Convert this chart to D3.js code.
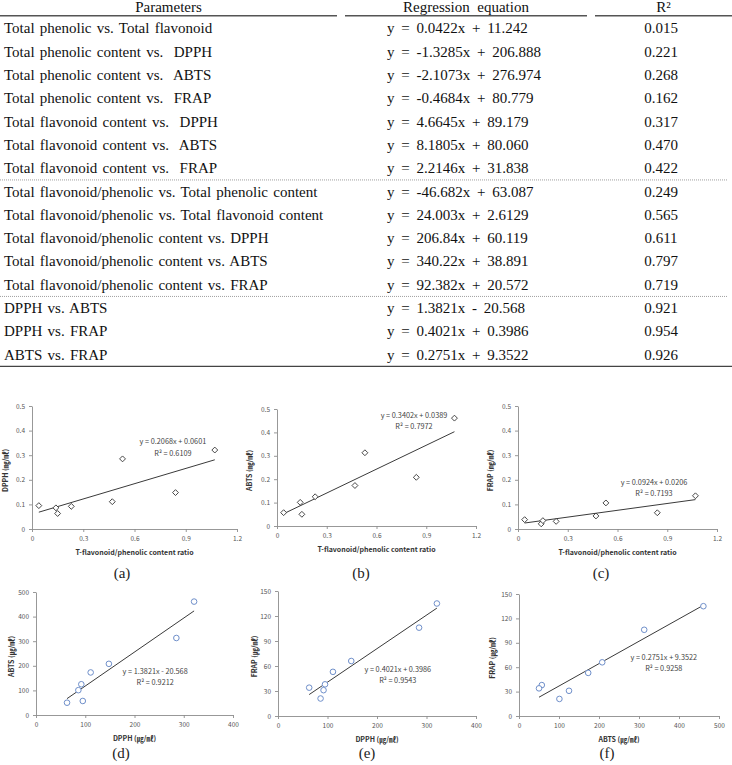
<!DOCTYPE html>
<html>
<head>
<meta charset="utf-8">
<script src="https://cdn.jsdelivr.net/npm/d3@7/dist/d3.min.js"></script>
<style>
  body { margin: 0; background: #fff; }
  svg { display: block; }
  .tbl text { font-family: "Liberation Serif", "Times New Roman", serif; font-size: 15px; fill: #111; white-space: pre; }
  .tick text { font-family: "Noto Sans CJK KR", "Noto Sans", sans-serif; font-size: 6.5px; fill: #555; }
  .ttl { font-family: "Noto Sans CJK KR", "Noto Sans", sans-serif; font-size: 7px; font-weight: bold; fill: #333; }
  .eq { font-family: "Noto Sans CJK KR", "Noto Sans", sans-serif; font-size: 7.3px; fill: #444; }
  .cap { font-family: "Liberation Serif", serif; font-size: 15px; fill: #222; }
</style>
</head>
<body>
<div id="chart"></div>
<script>
'use strict';

// ---- table ----
var parameters = [
  'Total phenolic vs. Total flavonoid',
  'Total phenolic content vs.  DPPH',
  'Total phenolic content vs.  ABTS',
  'Total phenolic content vs.  FRAP',
  'Total flavonoid content vs.  DPPH',
  'Total flavonoid content vs.  ABTS',
  'Total flavonoid content vs.  FRAP',
  'Total flavonoid/phenolic vs. Total phenolic content',
  'Total flavonoid/phenolic vs. Total flavonoid content',
  'Total flavonoid/phenolic content vs. DPPH',
  'Total flavonoid/phenolic content vs. ABTS',
  'Total flavonoid/phenolic content vs. FRAP',
  'DPPH vs. ABTS',
  'DPPH vs. FRAP',
  'ABTS vs. FRAP'
];
var equations = [
  'y = 0.0422x + 11.242',
  'y = -1.3285x + 206.888',
  'y = -2.1073x + 276.974',
  'y = -0.4684x + 80.779',
  'y = 4.6645x + 89.179',
  'y = 8.1805x + 80.060',
  'y = 2.2146x + 31.838',
  'y = -46.682x + 63.087',
  'y = 24.003x + 2.6129',
  'y = 206.84x + 60.119',
  'y = 340.22x + 38.891',
  'y = 92.382x + 20.572',
  'y = 1.3821x - 20.568',
  'y = 0.4021x + 0.3986',
  'y = 0.2751x + 9.3522'
];
var rSquared = ['0.015', '0.221', '0.268', '0.162', '0.317', '0.470', '0.422',
  '0.249', '0.565', '0.611', '0.797', '0.719', '0.921', '0.954', '0.926'];
var groupBreaks = [7, 12];   // dotted line drawn before these rows

// ---- samples (ug/mL, ratio) ----
var ratio = [0.04, 0.14, 0.15, 0.23, 0.47, 0.53, 0.84, 1.07];
var dpph  = [95, 86, 63, 92, 111, 285, 148, 321];
var abts  = [57, 101, 50, 125, 173, 313, 208, 461];
var frap  = [38, 21, 34, 31, 53, 106, 66, 135];

// fitted lines shown on the plots: slope, intercept, R2
var slopes     = [0.2068, 0.3402, 0.0924, 1.3821, 0.4021, 0.2751];
var intercepts = [0.0601, 0.0389, 0.0206, -20.568, 0.3986, 9.3522];
var fitR2      = ['0.6109', '0.7972', '0.7193', '0.9212', '0.9543', '0.9258'];

var ratioTicks = [0, 0.3, 0.6, 0.9, 1.2];
var mgTicks    = [0, 0.1, 0.2, 0.3, 0.4, 0.5];
var ug400Ticks = [0, 100, 200, 300, 400];
var ug500Ticks = [0, 100, 200, 300, 400, 500];
var frapTicks  = [0, 30, 60, 90, 120, 150];

var toMg = function(v){ return v / 1000 };

var panels = [
  {cap: '(a)', xs: ratio, ys: dpph.map(toMg), xt: ratioTicks, yt: mgTicks,
   xTitle: 'T-flavonoid/phenolic content ratio', yTitle: 'DPPH (㎎/㎖)', mark: 'diamond',
   box: [32, 406, 237, 529], lab: [0.825, 0.354], capPos: [122, 573], yTitleX: 6},
  {cap: '(b)', xs: ratio, ys: abts.map(toMg), xt: ratioTicks, yt: mgTicks,
   xTitle: 'T-flavonoid/phenolic content ratio', yTitle: 'ABTS (㎎/㎖)', mark: 'diamond',
   box: [277, 409, 476, 526], lab: [0.826, 0.474], capPos: [361, 573], yTitleX: 250},
  {cap: '(c)', xs: ratio, ys: frap.map(toMg), xt: ratioTicks, yt: mgTicks,
   xTitle: 'T-flavonoid/phenolic content ratio', yTitle: 'FRAP (㎎/㎖)', mark: 'diamond',
   box: [518, 406, 717, 529], lab: [0.82, 0.191], capPos: [601, 573], yTitleX: 491},
  {cap: '(d)', xs: dpph, ys: abts, xt: ug400Ticks, yt: ug500Ticks,
   xTitle: 'DPPH (㎍/㎖)', yTitle: 'ABTS (㎍/㎖)', mark: 'circle',
   box: [36, 592, 233, 715], lab: [242, 179], capPos: [121, 753], yTitleX: 12},
  {cap: '(e)', xs: dpph, ys: frap, xt: ug400Ticks, yt: frapTicks,
   xTitle: 'DPPH (㎍/㎖)', yTitle: 'FRAP (㎍/㎖)', mark: 'circle',
   box: [278, 591, 476, 716], lab: [242, 56.4], capPos: [367, 753], yTitleX: 255},
  {cap: '(f)', xs: abts, ys: frap, xt: ug500Ticks, yt: frapTicks,
   xTitle: 'ABTS (㎍/㎖)', yTitle: 'FRAP (㎍/㎖)', mark: 'circle',
   box: [519, 594, 719, 716], lab: [362, 72.5], capPos: [607, 753], yTitleX: 493}
];

var W = 732, H = 765;
var svg = d3.select('#chart').append('svg').attr('width', W).attr('height', H);

// ---- table drawing ----
var tbl = svg.append('g').attr('class', 'tbl');
var rowY = d3.scaleLinear().domain([0, 14]).range([28.5, 354.7]);

var heads = [
  {t: 'Parameters', x0: 0, x1: 337},
  {t: 'Regression  equation', x0: 345, x1: 587},
  {t: 'R²', x0: 595, x1: 732}
];
heads.forEach(function(h){
  tbl.append('text').attr('x', (h.x0 + h.x1) / 2).attr('y', 12)
    .attr('text-anchor', 'middle').text(h.t);
  tbl.append('line').attr('x1', h.x0).attr('x2', h.x1).attr('y1', 15.7).attr('y2', 15.7)
    .attr('stroke', '#555').attr('stroke-width', 1.4);
});

var rows = tbl.selectAll('g.row').data(parameters).enter().append('g').attr('class', 'row')
  .attr('transform', function(d, i){ return 'translate(0,' + rowY(i) + ')' });
rows.append('text').attr('x', 4).attr('dy', '0.33em').style('word-spacing', '1.5px').text(function(d){ return d });
rows.append('text').attr('x', 387).attr('dy', '0.33em').style('word-spacing', '3px')
  .text(function(d, i){ return equations[i] });
rows.append('text').attr('x', 661).attr('dy', '0.33em').attr('text-anchor', 'middle')
  .text(function(d, i){ return rSquared[i] });

groupBreaks.forEach(function(b){
  var y = (rowY(b - 1) + rowY(b)) / 2;
  tbl.append('line').attr('x1', 0).attr('x2', 728).attr('y1', y).attr('y2', y)
    .attr('stroke', '#888').attr('stroke-width', 0.8).attr('stroke-dasharray', '1,1');
});
var yBottom = rowY(14) + 11.7;
tbl.append('line').attr('x1', 0).attr('x2', 732).attr('y1', yBottom).attr('y2', yBottom)
  .attr('stroke', '#444').attr('stroke-width', 1.2);

// ---- scatter panels ----
var diamond = d3.symbol().type(d3.symbolDiamond2).size(22);

panels.forEach(function(p, k){
  var x = d3.scaleLinear().domain(d3.extent(p.xt)).range([p.box[0], p.box[2]]);
  var y = d3.scaleLinear().domain(d3.extent(p.yt)).range([p.box[3], p.box[1]]);
  var g = svg.append('g');

  var ax = g.append('g').attr('transform', 'translate(0,' + p.box[3] + ')')
    .call(d3.axisBottom(x).tickValues(p.xt).tickSize(3).tickSizeOuter(0).tickPadding(4)
      .tickFormat(function(d){ return String(d) }));
  var ay = g.append('g').attr('transform', 'translate(' + p.box[0] + ',0)')
    .call(d3.axisLeft(y).tickValues(p.yt).tickSize(3).tickSizeOuter(0).tickPadding(4)
      .tickFormat(function(d){ return String(d) }));
  [ax, ay].forEach(function(a){
    a.selectAll('path, line').attr('stroke', '#8c8c8c').attr('stroke-width', 0.9);
  });

  // titles
  g.append('text').attr('class', 'ttl').attr('x', (p.box[0] + p.box[2]) / 2).attr('y', p.box[3] + 24)
    .attr('dy', '0.35em').attr('text-anchor', 'middle').text(p.xTitle);
  g.append('text').attr('class', 'ttl')
    .attr('transform', 'translate(' + p.yTitleX + ',' + ((p.box[1] + p.box[3]) / 2 + 3) + ') rotate(-90)')
    .attr('dy', '0.35em').attr('text-anchor', 'middle').text(p.yTitle);

  // trend line
  var xr = d3.extent(p.xs);
  var line = d3.line().x(function(d){ return x(d) })
    .y(function(d){ return y(slopes[k] * d + intercepts[k]) });
  g.append('path').datum(xr).attr('d', line).attr('fill', 'none')
    .attr('stroke', '#3a3a3a').attr('stroke-width', 1);

  // points
  var pts = g.selectAll('.pt').data(p.xs).enter();
  if (p.mark === 'diamond') {
    pts.append('path').attr('d', diamond)
      .attr('transform', function(d, i){ return 'translate(' + x(d) + ',' + y(p.ys[i]) + ')' })
      .attr('fill', '#fff').attr('stroke', '#333').attr('stroke-width', 0.9);
  } else {
    pts.append('circle').attr('cx', function(d){ return x(d) })
      .attr('cy', function(d, i){ return y(p.ys[i]) }).attr('r', 2.8)
      .attr('fill', '#fff').attr('stroke', '#6f8fca').attr('stroke-width', 1);
  }

  // equation label
  var b = intercepts[k];
  var eq = 'y = ' + slopes[k] + 'x ' + (b < 0 ? '- ' : '+ ') + Math.abs(b);
  g.append('text').attr('class', 'eq').attr('x', x(p.lab[0])).attr('y', y(p.lab[1]))
    .attr('dy', '0.35em').attr('text-anchor', 'middle').style('white-space', 'pre').text(eq);
  g.append('text').attr('class', 'eq').attr('x', x(p.lab[0])).attr('y', y(p.lab[1]) + 11.5)
    .attr('dy', '0.35em').attr('text-anchor', 'middle').text('R² = ' + fitR2[k]);

  // caption
  svg.append('text').attr('class', 'cap').attr('x', p.capPos[0]).attr('y', p.capPos[1])
    .attr('dy', '0.35em').attr('text-anchor', 'middle').text(p.cap);
});
</script>
</body>
</html>
